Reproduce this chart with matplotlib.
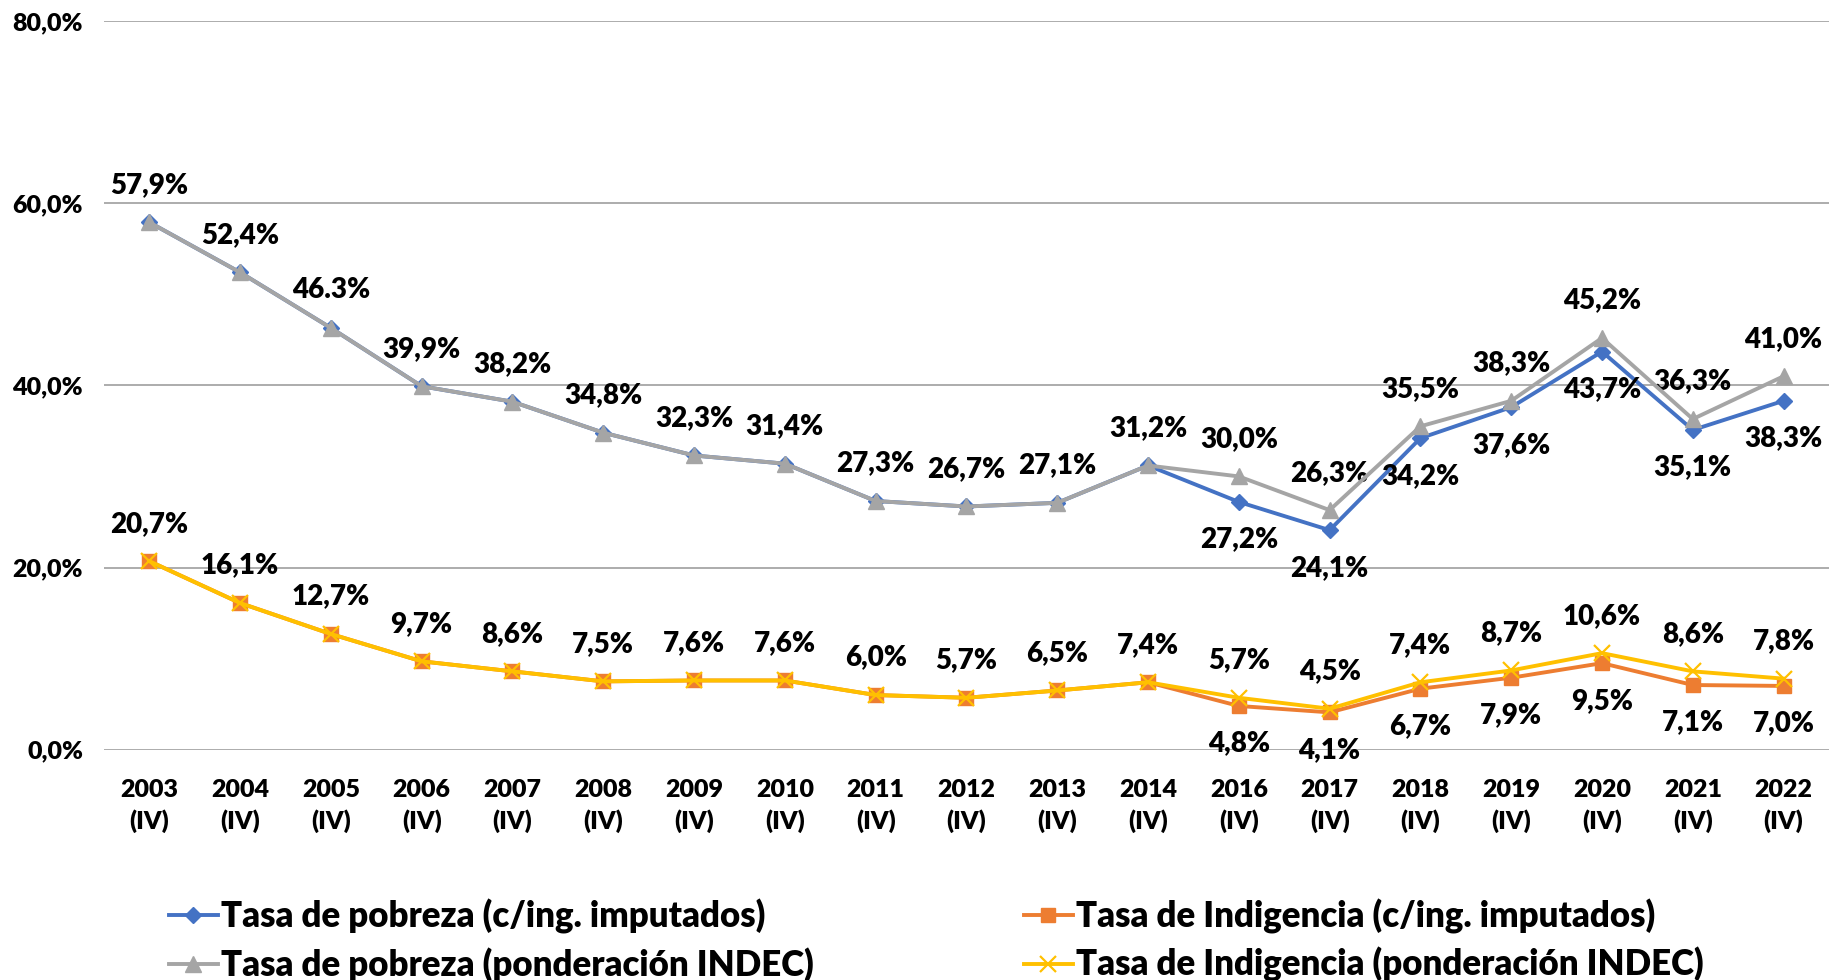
import matplotlib
matplotlib.use("Agg")
import matplotlib.pyplot as plt
from matplotlib.lines import Line2D

plt.rcParams['font.family'] = ['Lato', 'DejaVu Sans']
W = 800  # heavy/bold weight

years = ["2003", "2004", "2005", "2006", "2007", "2008", "2009", "2010", "2011", "2012",
         "2013", "2014", "2016", "2017", "2018", "2019", "2020", "2021", "2022"]
period = "(IV)"

pobreza_imput = [57.9, 52.4, 46.3, 39.9, 38.2, 34.8, 32.3, 31.4, 27.3, 26.7,
                 27.1, 31.2, 27.2, 24.1, 34.2, 37.6, 43.7, 35.1, 38.3]
pobreza_indec = [57.9, 52.4, 46.3, 39.9, 38.2, 34.8, 32.3, 31.4, 27.3, 26.7,
                 27.1, 31.2, 30.0, 26.3, 35.5, 38.3, 45.2, 36.3, 41.0]
indig_imput = [20.7, 16.1, 12.7, 9.7, 8.6, 7.5, 7.6, 7.6, 6.0, 5.7,
               6.5, 7.4, 4.8, 4.1, 6.7, 7.9, 9.5, 7.1, 7.0]
indig_indec = [20.7, 16.1, 12.7, 9.7, 8.6, 7.5, 7.6, 7.6, 6.0, 5.7,
               6.5, 7.4, 5.7, 4.5, 7.4, 8.7, 10.6, 8.6, 7.8]

names = ["Tasa de pobreza (c/ing. imputados)", "Tasa de pobreza (ponderación INDEC)",
         "Tasa de Indigencia (c/ing. imputados)", "Tasa de Indigencia (ponderación INDEC)"]
colors = ["#4472C4", "#A5A5A5", "#ED7D31", "#FFC000"]

yticks = [0, 20, 40, 60, 80]

# labels below are shown only from this index on (2016 onward)
first_below = 12


def fmt(v):
    return f"{v:.1f}%".replace(".", ",")


fig = plt.figure(figsize=(18.29, 9.8), dpi=100)
ax = fig.add_axes([0.0568, 0.235, 0.9432, 0.7436])

x = list(range(len(years)))

ax.plot(x, pobreza_imput, color=colors[0], lw=2.8, marker='D', ms=8.5, zorder=3)
ax.plot(x, indig_imput, color=colors[2], lw=2.8, marker='s', ms=9.5, zorder=3)
ax.plot(x, pobreza_indec, color=colors[1], lw=2.8, marker='^', ms=11.5, zorder=4)
ax.plot(x, indig_indec, color=colors[3], lw=2.8, marker='x', ms=11.5, mew=1.6, zorder=4)

lab_fs = 20
off = 27
for i in x:
    txt = fmt(pobreza_indec[i])
    if i == 2:
        txt = txt.replace(",", ".")
    ax.annotate(txt, (i, pobreza_indec[i]), xytext=(0, off), textcoords='offset points',
                ha='center', va='center', fontsize=lab_fs, fontweight=W, color='black')
    ax.annotate(fmt(indig_indec[i]), (i, indig_indec[i]), xytext=(0, off), textcoords='offset points',
                ha='center', va='center', fontsize=lab_fs, fontweight=W, color='black')
    if i >= first_below:
        ax.annotate(fmt(pobreza_imput[i]), (i, pobreza_imput[i]), xytext=(0, -off),
                    textcoords='offset points', ha='center', va='center', fontsize=lab_fs,
                    fontweight=W, color='black')
        ax.annotate(fmt(indig_imput[i]), (i, indig_imput[i]), xytext=(0, -off),
                    textcoords='offset points', ha='center', va='center', fontsize=lab_fs,
                    fontweight=W, color='black')

ax.set_xlim(-0.5, len(years) - 0.5)
ax.set_ylim(0, 80)
ax.set_yticks(yticks)
ax.set_yticklabels([f"{t:.1f}%".replace(".", ",") for t in yticks], fontsize=18, fontweight=W)
ax.set_xticks(x)
ax.set_xticklabels([f"{y}\n{period}" for y in years], fontsize=18, fontweight=W, linespacing=1.45)
ax.tick_params(axis='both', length=0)
ax.tick_params(axis='y', pad=15)
ax.tick_params(axis='x', pad=21)
ax.grid(axis='y', color='#A6A6A6', lw=1.3)
ax.set_axisbelow(True)
for s in ax.spines.values():
    s.set_visible(False)

handles = [
    Line2D([], [], color=colors[0], lw=2.8, marker='D', ms=8.5),
    Line2D([], [], color=colors[1], lw=2.8, marker='^', ms=11.5),
    Line2D([], [], color=colors[2], lw=2.8, marker='s', ms=9.5),
    Line2D([], [], color=colors[3], lw=2.8, marker='x', ms=11.5, mew=1.6),
]
leg_kw = dict(frameon=False, fontsize=25, handlelength=1.4, handletextpad=0.1,
              borderpad=0, borderaxespad=0, labelspacing=0.38, loc='upper left')
leg1 = fig.legend(handles[:2], names[:2], bbox_to_anchor=(169 / 1829, 1 - 899 / 980), **leg_kw)
leg2 = fig.legend(handles[2:], names[2:], bbox_to_anchor=(1024 / 1829, 1 - 899 / 980), **leg_kw)
for leg in (leg1, leg2):
    for t in leg.get_texts():
        t.set_fontweight(W)

fig.savefig("out.png", dpi=100)
